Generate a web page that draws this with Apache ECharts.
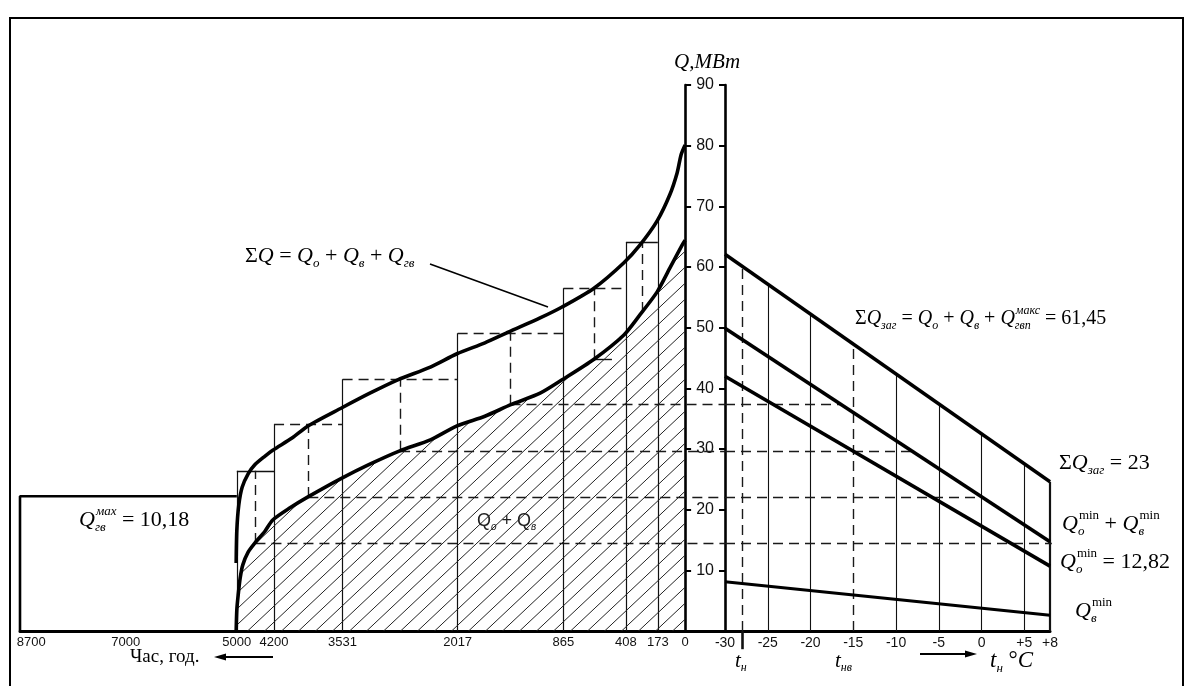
<!DOCTYPE html>
<html><head><meta charset="utf-8">
<script src="https://cdn.jsdelivr.net/npm/echarts@6/dist/echarts.min.js"></script>
<style>html,body{margin:0;padding:0;background:#fff}#c{width:1190px;height:686px}</style>
</head><body><div id="c"></div>
<script>
// ================= DATA =================
// Left panel: annual heat-load duration graph (hours axis is schematic)
const hourLabels = ['8700', '7000', '5000', '4200', '3531', '2017', '865', '408', '173', '0'];
const hourPos    = [98.3, 84.1, 67.4, 61.8, 51.5, 34.2, 18.3, 8.9, 4.1, 0];   // schematic abscissa of each hour mark
const stepTop    = [26.4, 34.1, 41.5, 49.1, 56.5, 64.1];   // ΣQ of each duration step, MW
const stepLow    = [14.5, 22.1, 29.7, 37.3, 44.8, 52.6];   // Qo+Qv of each duration step, MW
const hwMaxLevel = 22.2;                                   // Q_гв^max rectangle height on the graph
// ΣQ = Qo + Qv + Qгв  (schematic position, MW)
const sumCurve = [[67.5, 11.2], [67.4, 16.6], [67.1, 20.8], [66.6, 23.7], [65.7, 25.9], [64.7, 27.4],
  [63.2, 28.8], [62.0, 29.8], [59.1, 31.8], [56.7, 33.8], [51.6, 36.8], [47.4, 39.2], [43.2, 41.4],
  [38.3, 43.5], [34.3, 45.7], [30.1, 47.5], [26.5, 49.3], [21.8, 51.6], [18.5, 53.4], [13.7, 56.5],
  [9.2, 60.7], [6.8, 63.6], [4.2, 67.6], [2.3, 71.9], [1.2, 75.5], [0.6, 78.5], [0, 80.1]];
// Qo + Qv
const loadCurve = [[67.5, 0], [67.4, 3.5], [67.2, 5.9], [66.9, 8.7], [66.5, 10.9], [65.7, 13.0],
  [64.7, 14.5], [63.2, 16.4], [62.0, 18.3], [59.4, 20.3], [56.7, 22.1], [51.6, 25.2], [47.4, 27.5],
  [42.9, 29.7], [38.3, 31.5], [34.3, 33.8], [30.1, 35.4], [26.2, 37.3], [21.8, 39.2], [18.5, 41.4],
  [13.7, 44.8], [9.2, 48.8], [6.8, 52.1], [4.2, 55.9], [2.3, 59.8], [0.45, 63.6], [0, 64.4]];

// Right panel: load vs outdoor temperature
const tempTicks  = [-30, -25, -20, -15, -10, -5, 0, 5, 8];
const tempEnds   = [-30, 8];
const sumLoadT   = [62.1, 24.6];   // ΣQзаг
const heatVentT  = [49.9, 14.7];   // Qo + Qv
const heatT      = [42.0, 10.7];   // Qo
const ventT      = [8.1, 2.6];     // Qv
const tDesign    = -28;            // t_н
const tVentDes   = -15;            // t_нв

// ================= helpers =================
const SERIF = '"Liberation Serif","Times New Roman",serif';
const SANS = '"Liberation Sans",Arial,sans-serif';
const mctx = document.createElement('canvas').getContext('2d');
function tw(t, size, family, italic) { mctx.font = (italic ? 'italic ' : '') + size + 'px ' + family; return mctx.measureText(t).width; }
function txt(x, y, t, size, family, italic, color) {
  return { type: 'text', x: x, y: y, silent: true, z: 50,
    style: { text: t, fontSize: size, fontFamily: family, fontStyle: italic ? 'italic' : 'normal',
      fill: color || '#000', align: 'left', verticalAlign: 'middle' } };
}
// parts: [text, italic, sub, sup, supItalic]
function formula(x, y, parts, size, family, color) {
  family = family || SERIF;
  const ss = Math.round(size * 0.58);
  const out = []; let cx = x;
  parts.forEach(p => {
    const [t, it, sub, sup, supIt] = p;
    out.push(txt(cx, y, t, size, family, it, color));
    cx += tw(t, size, family, it);
    let adv = 0;
    if (sub) { out.push(txt(cx, y + size * 0.34, sub, ss, family, true, color)); adv = tw(sub, ss, family, true); }
    if (sup) { const si = supIt !== false; out.push(txt(cx + 1, y - size * 0.4, sup, ss, family, si, color)); adv = Math.max(adv, tw(sup, ss, family, si) + 1); }
    cx += adv;
  });
  return out;
}
function interp(curve, s) {
  for (let i = 0; i < curve.length - 1; i++) {
    const a = curve[i], b = curve[i + 1];
    if ((s <= a[0] && s >= b[0])) return a[1] + (b[1] - a[1]) * (s - a[0]) / (b[0] - a[0]);
  }
  return curve[curve.length - 1][1];
}
function lin(arr, t) { return arr[0] + (arr[1] - arr[0]) * (t - tempEnds[0]) / (tempEnds[1] - tempEnds[0]); }
function tAt(arr, v) { return tempEnds[0] + (arr[0] - v) * (tempEnds[1] - tempEnds[0]) / (arr[0] - arr[1]); }

// hatch pattern
const hatch = document.createElement('canvas');
hatch.width = 17; hatch.height = 16;
(function () {
  const c = hatch.getContext('2d');
  c.strokeStyle = '#222'; c.lineWidth = 1;
  c.beginPath(); c.moveTo(-2, 16 + 2 * 16 / 17); c.lineTo(19, -2 * 16 / 17); c.stroke();
})();

// ================= layout =================
const TOP = 85, H = 546;
const LEFT0 = 20, W0 = 705, XMIN0 = -6;     // left panel, extends to the temperature axis
const LEFT1 = 725, W1 = 325;

const DASH = [10, 6];
const solid = (w) => ({ color: '#111', width: w || 1.2, type: 'solid', opacity: 1 });
const dashed = { color: '#1a1a1a', width: 1.4, type: DASH, opacity: 1 };

// ---- left-panel segments ----
const bounds = hourPos.slice(2, 9);
const segL = [];
bounds.forEach((b, j) => {
  let top;
  if (j === 0) top = stepTop[0];
  else if (j === bounds.length - 1) top = interp(sumCurve, b);
  else top = Math.max(stepTop[j - 1], stepTop[j]);
  segL.push({ coords: [[b, 0], [b, top]], lineStyle: solid(1.2) });
});
const solidTops = [0, 5];
stepTop.forEach((tp, i) => {
  const a = bounds[i], b = bounds[i + 1], mid = (a + b) / 2;
  segL.push({ coords: [[a, tp], [b, tp]], lineStyle: solidTops.includes(i) ? solid(1.4) : dashed });
  segL.push({ coords: [[mid, stepLow[i]], [mid, tp]], lineStyle: dashed });
  if (i <= 3) segL.push({ coords: [[mid, stepLow[i]], [XMIN0, stepLow[i]]], lineStyle: dashed });
  if (i === 4) segL.push({ coords: [[mid, stepLow[i]], [mid - 2.6, stepLow[i]]], lineStyle: solid(1.4) });
});
// ---- right-panel segments ----
const segR = [];
tempTicks.forEach(t => {
  if (t === tempEnds[0] || t === tVentDes) return;
  segR.push({ coords: [[t, 0], [t, lin(sumLoadT, t)]], lineStyle: solid(t === tempEnds[1] ? 2.2 : 1.1) });
});
segR.push({ coords: [[tDesign, 0], [tDesign, lin(sumLoadT, tDesign)]], lineStyle: dashed });
segR.push({ coords: [[tDesign, 0], [tDesign, -3]], lineStyle: solid(2.6) });
segR.push({ coords: [[tVentDes, 0], [tVentDes, lin(sumLoadT, tVentDes)]], lineStyle: dashed });
for (let i = 0; i <= 3; i++) {
  segR.push({ coords: [[tempEnds[0], stepLow[i]], [tAt(heatVentT, stepLow[i]), stepLow[i]]], lineStyle: dashed });
}

const toT = arr => tempEnds.map((t, i) => [t, arr[i]]);

// ---- text annotations ----
const G = [];
G.push({ type: 'rect', silent: true, shape: { x: 10, y: 18, width: 1173, height: 690 }, style: { fill: 'none', stroke: '#000', lineWidth: 2 } });
G.push(...formula(245, 256, [['Σ', false], ['Q', true], [' = ', false], ['Q', true, 'о'], [' + ', false], ['Q', true, 'в'], [' + ', false], ['Q', true, 'гв']], 22));
G.push({ type: 'line', silent: true, shape: { x1: 430, y1: 264, x2: 548, y2: 307 }, style: { stroke: '#000', lineWidth: 1.6 } });
G.push(...formula(79, 520, [['Q', true, 'гв', 'мах'], [' = 10,18', false]], 22));
G.push(...formula(477, 521, [['Q', false, 'о'], [' + ', false], ['Q', false, 'в']], 18, SANS, '#222'));
G.push(...formula(855, 319, [['Σ', false], ['Q', true, 'заг'], [' = ', false], ['Q', true, 'о'], [' + ', false], ['Q', true, 'в'], [' + ', false], ['Q', true, 'гвп', 'макс'], [' = 61,45', false]], 20));
G.push(...formula(1059, 463, [['Σ', false], ['Q', true, 'заг'], [' = 23', false]], 22));
G.push(...formula(1062, 524, [['Q', true, 'о', 'min', false], [' + ', false], ['Q', true, 'в', 'min', false]], 22));
G.push(...formula(1060, 562, [['Q', true, 'о', 'min', false], [' = 12,82', false]], 22));
G.push(...formula(1075, 611, [['Q', true, 'в', 'min', false]], 22));
G.push(...formula(735, 661, [['t', true, 'н']], 21));
G.push(...formula(835, 661, [['t', true, 'нв']], 21));
G.push(...formula(990, 661, [['t', true, 'н'], [' °', false], ['C', true]], 23));
G.push(txt(130, 657, 'Час, год.', 19, SERIF, false));
// arrows
G.push({ type: 'line', silent: true, shape: { x1: 222, y1: 657, x2: 273, y2: 657 }, style: { stroke: '#000', lineWidth: 2 } });
G.push({ type: 'polygon', silent: true, shape: { points: [[214, 657], [226, 653.5], [226, 660.5]] }, style: { fill: '#000' } });
G.push({ type: 'line', silent: true, shape: { x1: 920, y1: 654, x2: 968, y2: 654 }, style: { stroke: '#000', lineWidth: 2 } });
G.push({ type: 'polygon', silent: true, shape: { points: [[977, 654], [965, 650.5], [965, 657.5]] }, style: { fill: '#000' } });

// ================= chart =================
const chart = echarts.init(document.getElementById('c'), null, { renderer: 'canvas' });
const axisLineStyle = { color: '#000', width: 2.6 };
chart.setOption({
  animation: false,
  backgroundColor: '#fff',
  grid: [
    { left: LEFT0, top: TOP, width: W0, height: H, containLabel: false, outerBoundsMode: 'none' },
    { left: LEFT1, top: TOP, width: W1, height: H, containLabel: false, outerBoundsMode: 'none' }
  ],
  xAxis: [
    { gridIndex: 0, type: 'value', min: XMIN0, max: 100, inverse: true,
      axisLine: { onZero: false, lineStyle: { color: '#000', width: 3 } }, axisTick: { show: false }, splitLine: { show: false },
      axisLabel: { customValues: hourPos, margin: 5, color: '#111', fontSize: 13, fontFamily: SANS,
        formatter: v => { let k = 0, d = 1e9; hourPos.forEach((p, i) => { if (Math.abs(p - v) < d) { d = Math.abs(p - v); k = i; } }); return hourLabels[k]; } } },
    { gridIndex: 1, type: 'value', min: -30, max: 8,
      axisLine: { onZero: false, lineStyle: { color: '#000', width: 3 } }, axisTick: { show: false }, splitLine: { show: false },
      axisLabel: { customValues: tempTicks, margin: 5, color: '#111', fontSize: 14, fontFamily: SANS,
        formatter: v => (v > 0 ? '+' + v : String(v)) } }
  ],
  yAxis: [
    { gridIndex: 0, type: 'value', min: 0, max: 90, interval: 10, position: 'right', offset: -(W0 * (0 - XMIN0) / (100 - XMIN0)),
      name: 'Q,МВт', nameLocation: 'end', nameGap: 12,
      nameTextStyle: { fontFamily: SERIF, fontStyle: 'italic', fontSize: 21, color: '#000', align: 'center', padding: [0, 0, 0, 44] },
      axisLine: { show: true, onZero: false, lineStyle: axisLineStyle }, axisTick: { show: true, length: 6, lineStyle: { color: '#000', width: 2 } },
      splitLine: { show: false },
      axisLabel: { align: 'center', margin: 20, fontSize: 16, color: '#111', fontFamily: SANS, formatter: v => v === 0 ? '' : String(v) } },
    { gridIndex: 1, type: 'value', min: 0, max: 90, interval: 10, position: 'left',
      axisLine: { show: true, onZero: false, lineStyle: axisLineStyle }, axisTick: { show: true, length: 6, lineStyle: { color: '#000', width: 2 } },
      splitLine: { show: false }, axisLabel: { show: false } }
  ],
  series: [
    { type: 'line', name: 'Qo+Qv', xAxisIndex: 0, yAxisIndex: 0, data: loadCurve, symbol: 'none', smooth: 0.25, z: 3,
      lineStyle: { color: '#000', width: 3.6 }, areaStyle: { color: { image: hatch, repeat: 'repeat' }, opacity: 1 } },
    { type: 'lines', coordinateSystem: 'cartesian2d', xAxisIndex: 0, yAxisIndex: 0, data: segL, clip: false, silent: true, z: 2,
      lineStyle: { opacity: 1 } },
    { type: 'line', name: 'Qгв max', xAxisIndex: 0, yAxisIndex: 0, symbol: 'none', z: 4,
      data: [[100, 0], [100, hwMaxLevel], [hourPos[2], hwMaxLevel]], lineStyle: { color: '#000', width: 2.6 } },
    { type: 'line', name: 'ΣQ', xAxisIndex: 0, yAxisIndex: 0, data: sumCurve, symbol: 'none', smooth: 0.25, z: 4,
      lineStyle: { color: '#000', width: 3.6 } },
    { type: 'lines', coordinateSystem: 'cartesian2d', xAxisIndex: 1, yAxisIndex: 1, data: segR, clip: false, silent: true, z: 2,
      lineStyle: { opacity: 1 } },
    { type: 'line', name: 'ΣQзаг', xAxisIndex: 1, yAxisIndex: 1, data: toT(sumLoadT), symbol: 'none', z: 4, lineStyle: { color: '#000', width: 3.4 } },
    { type: 'line', name: 'Qo+Qv(t)', xAxisIndex: 1, yAxisIndex: 1, data: toT(heatVentT), symbol: 'none', z: 4, lineStyle: { color: '#000', width: 3.6 } },
    { type: 'line', name: 'Qo(t)', xAxisIndex: 1, yAxisIndex: 1, data: toT(heatT), symbol: 'none', z: 4, lineStyle: { color: '#000', width: 3.6 } },
    { type: 'line', name: 'Qv(t)', xAxisIndex: 1, yAxisIndex: 1, data: toT(ventT), symbol: 'none', z: 4, lineStyle: { color: '#000', width: 3 } }
  ],
  graphic: G
});
</script>
</body></html>
